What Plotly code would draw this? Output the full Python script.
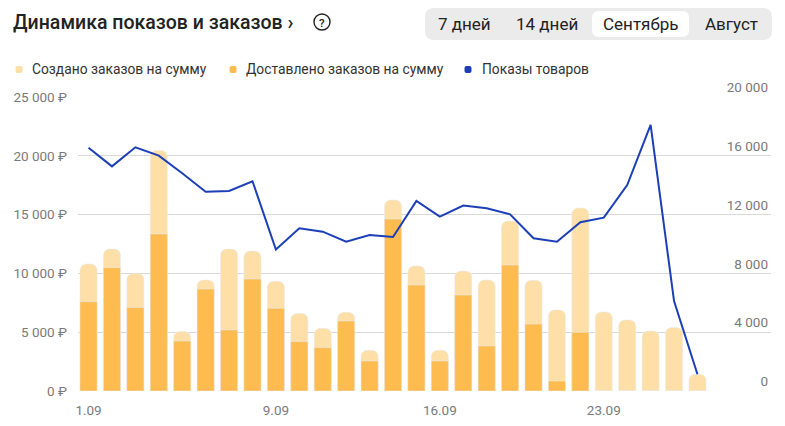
import plotly.graph_objects as go

# ---------------- data ----------------
days = list(range(1, 28))
day_labels = [f"{d}.09" for d in days]
created = [10800, 12070, 10000, 20460, 5050, 9440, 12070, 11900, 9330,
           6600, 5330, 6690, 3460, 16240, 10630, 3460, 10200, 9440, 14450,
           9420, 6890, 15560, 6720, 6040, 5100, 5390, 1420]
delivered = [7590, 10490, 7090, 13350, 4250, 8670, 5190, 9520, 7030,
             4200, 3690, 5950, 2550, 14620, 9010, 2550, 8160, 3830, 10710,
             5690, 850, 4990, 0, 0, 0, 0, 0]
views = [16550, 15280, 16580, 16010, 14810, 13560, 13610, 14270, 9620,
         11070, 10840, 10160, 10610, 10480, 12930, 11860, 12610, 12430, 12020,
         10390, 10160, 11480, 11790, 14010, 18100, 6120, 1140]

x_tick_vals = ["1.09", "9.09", "16.09", "23.09"]
left_ticks = [0, 5000, 10000, 15000, 20000, 25000]
left_text = ["0 ₽", "5 000 ₽", "10 000 ₽", "15 000 ₽", "20 000 ₽", "25 000 ₽"]
right_ticks = [0, 4000, 8000, 12000, 16000, 20000]
right_text = ["0", "4 000", "8 000", "12 000", "16 000", "20 000"]

legend_names = ["Создано заказов на сумму", "Доставлено заказов на сумму", "Показы товаров"]
period_buttons = ["7 дней", "14 дней", "Сентябрь", "Август"]

C_LIGHT = "#FEDFA7"
C_DARK = "#FDBB50"
C_BLUE = "#1C3FB8"
FONT = "Roboto"

# ---------------- geometry helpers ----------------
W, H = 785, 426
L, R, T, B = 78, 771, 97, 391


def px(x):
    return (x - L) / (R - L)


def py(y):
    return (B - y) / (B - T)


def path_px(x0, y0, x1, y1, r):
    X0, X1 = px(x0), px(x1)
    Y0, Y1 = py(y0), py(y1)
    rx = r / (R - L)
    ry = r / (B - T)
    return (f"M{X0 + rx},{Y0} L{X1 - rx},{Y0} Q{X1},{Y0} {X1},{Y0 - ry} "
            f"L{X1},{Y1 + ry} Q{X1},{Y1} {X1 - rx},{Y1} L{X0 + rx},{Y1} "
            f"Q{X0},{Y1} {X0},{Y1 + ry} L{X0},{Y0 - ry} Q{X0},{Y0} {X0 + rx},{Y0} Z")


fig = go.Figure()
fig.add_trace(go.Bar(x=day_labels, y=created, marker_color=C_LIGHT, width=0.73,
                     name=legend_names[0], hoverinfo="y"))
fig.add_trace(go.Bar(x=day_labels, y=delivered, marker_color=C_DARK, width=0.73,
                     name=legend_names[1], hoverinfo="y"))
fig.add_trace(go.Scatter(x=day_labels, y=views, mode="lines", yaxis="y2",
                         line=dict(color=C_BLUE, width=2), name=legend_names[2]))

fig.update_layout(
    width=W, height=H,
    margin=dict(l=L, r=W - R, t=T, b=H - B, pad=0, autoexpand=False),
    paper_bgcolor="white", plot_bgcolor="white",
    barmode="overlay", barcornerradius=6,
    showlegend=False,
    font=dict(family=FONT, color="#7a7a7a", size=13),
    xaxis=dict(
        type="category", range=[-0.45, 29.14], automargin=False,
        tickmode="array", tickvals=x_tick_vals, ticktext=x_tick_vals,
        showgrid=False, showline=False, zeroline=False, ticks="",
        tickfont=dict(size=13.5, color="#7a7a7a"), ticklabelstandoff=9,
    ),
    yaxis=dict(
        range=[0, 25000], tickmode="array", tickvals=left_ticks, ticktext=left_text,
        showgrid=True, gridcolor="#d9d9d9", gridwidth=1, zeroline=False, automargin=False,
        showline=False, ticks="", tickfont=dict(size=13.5, color="#7a7a7a"),
        ticklabelstandoff=10,
    ),
    yaxis2=dict(
        range=[0, 20000], overlaying="y", side="right", automargin=False,
        tickmode="array", tickvals=right_ticks, ticktext=right_text,
        showgrid=False, zeroline=False, showline=False, ticks="",
        ticklabelposition="inside top", ticklabeloverflow="allow",
        tickfont=dict(size=13.5, color="#7a7a7a"),
    ),
)

shapes = []
annotations = []

# title
annotations.append(dict(xref="paper", yref="paper", x=px(11), y=py(22), xanchor="left",
                        yanchor="middle", showarrow=False,
                        text="Динамика показов и заказов ›",
                        font=dict(family=FONT, size=19.5, color="#222222", weight=500)))
# question icon
shapes.append(dict(type="circle", xref="paper", yref="paper",
                   x0=px(314), x1=px(330), y0=py(14), y1=py(30),
                   line=dict(color="#222222", width=1.4)))
annotations.append(dict(xref="paper", yref="paper", x=px(322), y=py(22.5), xanchor="center",
                        yanchor="middle", showarrow=False, text="?",
                        font=dict(family=FONT, size=11.5, color="#222222", weight=500)))

# period buttons
shapes.append(dict(type="path", xref="paper", yref="paper", path=path_px(425, 8, 772, 40, 9),
                   fillcolor="#ebebeb", line=dict(width=0)))
shapes.append(dict(type="path", xref="paper", yref="paper", path=path_px(592, 11, 689, 37, 7),
                   fillcolor="#ffffff", line=dict(width=0)))
btn_x = [464, 547, 640, 731]
for label, bx in zip(period_buttons, btn_x):
    annotations.append(dict(xref="paper", yref="paper", x=px(bx), y=py(23.5),
                            xanchor="center", yanchor="middle", showarrow=False, text=label,
                            font=dict(family=FONT, size=17, color="#222222")))

# legend
leg_sq = [19, 233, 468]
leg_txt = [30, 244, 480]
leg_col = [C_LIGHT, C_DARK, C_BLUE]
for name, sx, tx, col in zip(legend_names, leg_sq, leg_txt, leg_col):
    shapes.append(dict(type="path", xref="paper", yref="paper",
                       path=path_px(sx - 3.5, 66, sx + 3.5, 73, 2),
                       fillcolor=col, line=dict(width=0)))
    annotations.append(dict(xref="paper", yref="paper", x=px(tx), y=py(69.5),
                            xanchor="left", yanchor="middle", showarrow=False, text=name,
                            font=dict(family=FONT, size=13.8, color="#333333")))

fig.update_layout(shapes=shapes, annotations=annotations)
fig.write_html("out.html", config={"displayModeBar": False},
               post_script="document.body.style.margin='0';document.body.style.overflow='hidden';")
